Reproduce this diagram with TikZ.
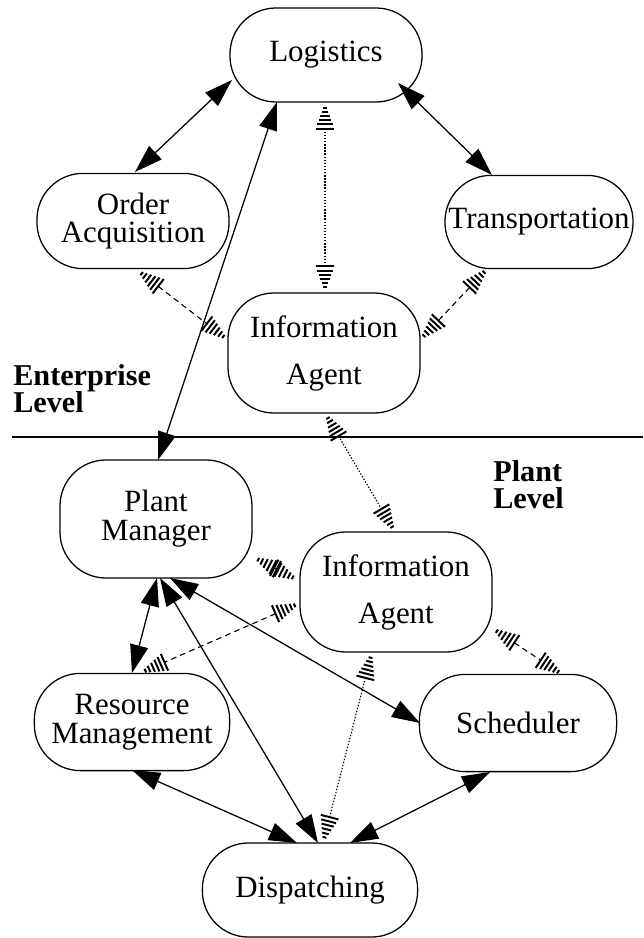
\documentclass[tikz,border=0pt]{standalone}
\usepackage{fontspec}
\setmainfont{Liberation Serif}
\usetikzlibrary{arrows.meta}
% striped triangle tip for the information links
\pgfdeclarearrow{
  name = Hatch,
  parameters = {\the\pgfarrowlength,\the\pgfarrowwidth},
  setup code = {
    \pgfarrowssettipend{0pt}
    \pgfarrowssetlineend{-\pgfarrowlength}
    \pgfarrowsupperhullpoint{-\pgfarrowlength}{.5\pgfarrowwidth}
    \pgfarrowshullpoint{0pt}{0pt}
    \pgfarrowssavethe\pgfarrowlength
    \pgfarrowssavethe\pgfarrowwidth
  },
  drawing code = {
    \pgfsetdash{}{0pt}
    \pgfsetbuttcap
    \pgfsetlinewidth{1.4pt}
    \foreach \t in {0.22,0.37,0.53,0.69,0.84,1.0}{
      \pgfmathsetmacro\hw{0.5*\t*\pgfarrowwidth}
      \pgfpathmoveto{\pgfqpoint{-\t\pgfarrowlength}{-\hw pt}}
      \pgfpathlineto{\pgfqpoint{-\t\pgfarrowlength}{\hw pt}}
      \pgfusepathqstroke
    }
  },
  defaults = {length = 19pt, width = 13pt}
}
\tikzset{
  agentbox/.style={draw, line width=0.9pt, rounded corners=1.15cm, inner sep=0pt, align=center, minimum width=4.8cm, minimum height=2.4cm},
  levelnote/.style={font=\fontsize{21.5}{19.5}\selectfont\bfseries, align=left, inner sep=0pt, anchor=north west},
  flowarrow/.style={{Triangle[length=20pt,width=13pt]}-{Triangle[length=20pt,width=13pt]}, line width=0.9pt},
  infoarrow/.style={{Hatch}-{Hatch}, line width=0.8pt, dash pattern=on 4pt off 3pt},
  infodots/.style={{Hatch}-{Hatch}, line width=0.8pt, dash pattern=on 1pt off 1.2pt}
}
\begin{document}
\begin{tikzpicture}[x=0.025cm, y=-0.025cm, every node/.style={font=\fontsize{22}{20.5}\selectfont}]
      \useasboundingbox (0,0) rectangle (643,938);
      % enterprise level
      \node[agentbox, minimum height=2.35cm] (log) at (326,55) {Logistics};
      \node[agentbox, minimum height=2.38cm] (oa) at (133,221) {Order\\Acquisition};
      \node[agentbox, minimum width=4.7cm, minimum height=2.33cm] (tr) at (539,222) {Transportation};
      \node[agentbox, minimum height=3cm] (ia1) at (324,353) {Information\\[13pt]Agent};
      \node[levelnote] (ent) at (13,364) {Enterprise\\Level};
      \draw[line width=0.8pt] (12,437) -- (643,437);
      % plant level
      \node[levelnote] (plv) at (493,460) {Plant\\Level};
      \node[agentbox, minimum height=2.95cm] (pm) at (156,519) {Plant\\Manager};
      \node[agentbox, minimum height=3cm] (ia2) at (396,592) {Information\\[13pt]Agent};
      \node[agentbox, minimum width=4.88cm, minimum height=2.43cm] (rm) at (132,722) {Resource\\Management};
      \node[agentbox, minimum width=4.93cm, minimum height=2.43cm] (sc) at (518,723) {Scheduler};
      \node[agentbox, minimum width=5.38cm, minimum height=2.35cm] (dp) at (310,890) {Dispatching};

      \draw[flowarrow] ([shift={(-94,25)}]log.center) -- ([shift={(2,-49)}]oa.center);
      \draw[flowarrow] ([shift={(72,28)}]log.center) -- ([shift={(-47,-47)}]tr.center);
      \draw[flowarrow] ([shift={(-49,47)}]log.center) -- ([shift={(2,-59)}]pm.center);
      \draw[infodots] ([shift={(-1,47)}]log.center) -- ([shift={(1,-60)}]ia1.center);
      \draw[infoarrow] ([shift={(4,49)}]oa.center) -- ([shift={(-96,-13)}]ia1.center);
      \draw[infoarrow] ([shift={(-51,46)}]tr.center) -- ([shift={(96,-13)}]ia1.center);
      \draw[infodots] ([shift={(1,60)}]ia1.center) -- ([shift={(-1,-60)}]ia2.center);

      \draw[infoarrow] ([shift={(97,38)}]pm.center) -- ([shift={(-98,-12)}]ia2.center);
      \draw[infoarrow] ([shift={(-96,11)}]ia2.center) -- ([shift={(8,-49)}]rm.center);
      \draw[infoarrow] ([shift={(96,36)}]ia2.center) -- ([shift={(45,-48)}]sc.center);
      \draw[infodots] ([shift={(-24,60)}]ia2.center) -- ([shift={(13,-47)}]dp.center);
      \draw[flowarrow] ([shift={(1,59)}]pm.center) -- ([shift={(0,-49)}]rm.center);
      \draw[flowarrow] ([shift={(4,59)}]pm.center) -- ([shift={(8,-47)}]dp.center);
      \draw[flowarrow] ([shift={(14,59)}]pm.center) -- ([shift={(-98,0)}]sc.center);
      \draw[flowarrow] ([shift={(0,48)}]rm.center) -- ([shift={(-13,-47)}]dp.center);
      \draw[flowarrow] ([shift={(-28,49)}]sc.center) -- ([shift={(40,-47)}]dp.center);
    \end{tikzpicture}
\end{document}
